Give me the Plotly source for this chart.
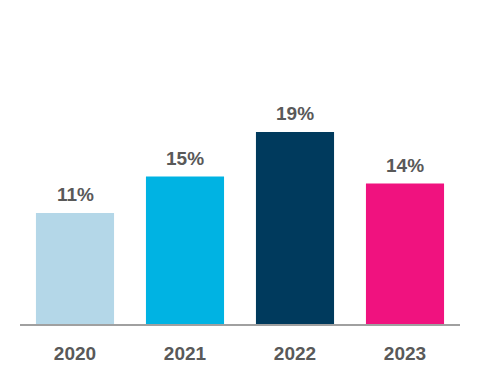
import plotly.graph_objects as go

years = ["2020", "2021", "2022", "2023"]
values = [11.0, 14.6, 19.0, 13.9]
labels = ["11%", "15%", "19%", "14%"]
colors = ["#b4d7e8", "#00b3e3", "#003a5d", "#f0127f"]

FONT = "Liberation Sans Narrow, Arial Narrow, Liberation Sans, Arial, sans-serif"

fig = go.Figure(go.Bar(
    x=years, y=values,
    marker=dict(color=colors, line=dict(width=0)),
    width=0.71, cliponaxis=False, hoverinfo="skip",
))
# category axis: annotation x given as category serial number
for i, (v, lab) in enumerate(zip(values, labels)):
    fig.add_annotation(
        x=i, y=v, xref="x", yref="y", text=lab, showarrow=False,
        yanchor="bottom", yshift=6,
        font=dict(family=FONT, size=19, color="#595959", weight="bold"),
    )
fig.update_layout(
    width=480, height=384,
    margin=dict(l=12, r=28, t=12, b=68),
    paper_bgcolor="white", plot_bgcolor="white",
    showlegend=False,
    font=dict(family=FONT, color="#595959"),
)
fig.update_xaxes(
    type="category", range=[-0.5, len(years) - 0.5],
    showline=True, linecolor="#a0a0a0", linewidth=2,
    showgrid=False, ticks="outside", ticklen=11, tickcolor="rgba(0,0,0,0)",
    tickfont=dict(family=FONT, size=19, color="#595959", weight="bold"),
)
fig.update_yaxes(range=[0, 30.1], visible=False, showgrid=False)
fig.write_html("out.html")
